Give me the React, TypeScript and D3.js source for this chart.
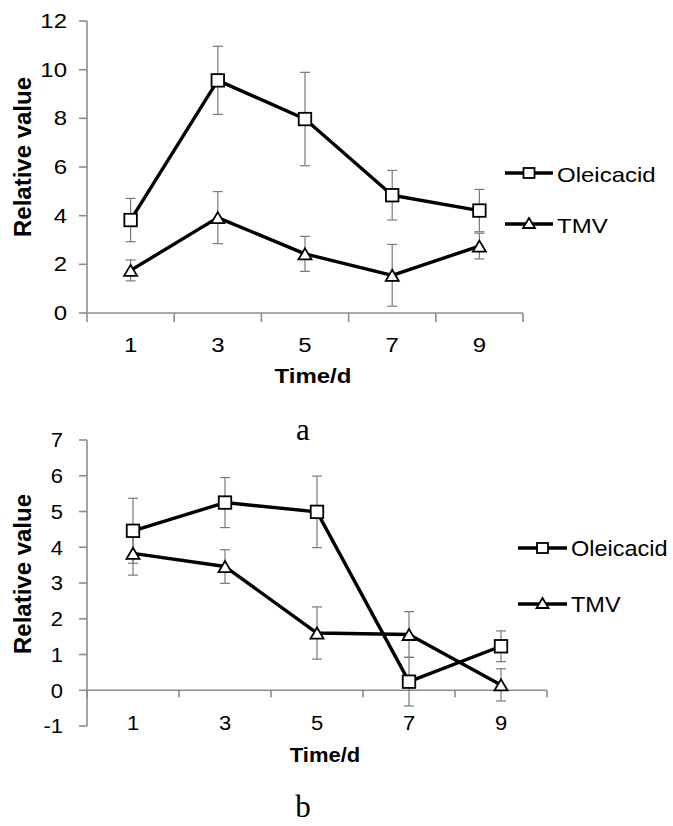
import React from "react";
import * as d3 from "d3";

const days = ["1", "3", "5", "7", "9"];
const seriesNames = ["Oleicacid", "TMV"];

// Panel a
const aOleic = [3.82, 9.56, 7.97, 4.84, 4.21];
const aOleicErr = [0.89, 1.4, 1.92, 1.02, 0.87];
const aTmv = [1.75, 3.92, 2.43, 1.55, 2.75];
const aTmvErr = [0.43, 1.07, 0.72, 1.27, 0.53];
const aTicks = [0, 2, 4, 6, 8, 10, 12];

// Panel b
const bOleic = [4.46, 5.25, 4.99, 0.24, 1.23];
const bOleicErr = [0.91, 0.7, 1.0, 0.68, 0.43];
const bTmv = [3.83, 3.46, 1.6, 1.56, 0.15];
const bTmvErr = [0.61, 0.47, 0.73, 0.64, 0.45];
const bTicks = [-1, 0, 1, 2, 3, 4, 5, 6, 7];

const SANS = "'Liberation Sans', Arial, Helvetica, sans-serif";
const SERIF = "'Liberation Serif', 'Times New Roman', serif";
const AXIS = "#8c8c8c";
const ERR = "#7a7a7a";

function Square({ x, y, s = 12.5 }: { x: number; y: number; s?: number }) {
  return (
    <rect x={x - s / 2} y={y - s / 2} width={s} height={s} fill="#fff" stroke="#000" strokeWidth={1.8} />
  );
}

function Triangle({ x, y, w = 13, h = 11 }: { x: number; y: number; w?: number; h?: number }) {
  const p = `${x},${y - h / 2} ${x + w / 2},${y + h / 2} ${x - w / 2},${y + h / 2}`;
  return <polygon points={p} fill="#fff" stroke="#000" strokeWidth={1.8} strokeLinejoin="miter" />;
}

function STxt({
  x, y, sy, fs, anchor = "middle", weight = "normal", children,
}: { x: number; y: number; sy: number; fs: number; anchor?: string; weight?: string; children: React.ReactNode }) {
  return (
    <text
      transform={`translate(${x},${y}) scale(1,${sy})`}
      fontSize={fs}
      fontFamily={SANS}
      fontWeight={weight}
      textAnchor={anchor as any}
      fill="#000"
    >
      {children}
    </text>
  );
}

function Panel({ c }: { c: any }) {
  const x = d3.scaleBand<string>().domain(days).range(c.xRange).padding(0);
  const y = d3.scaleLinear().domain(c.yDomain).range(c.yRange);
  const cx = (d: string) => (x(d) as number) + x.bandwidth() / 2;
  const y0 = y(Math.max(0, c.yDomain[0]));
  const line = d3
    .line<number>()
    .x((_, i) => cx(days[i]))
    .y((v) => y(v));
  const bounds = [...days.map((d) => x(d) as number), c.xRange[1]];
  const capH = c.fs * 0.716 * c.sy;
  const series = [
    { v: c.oleic, e: c.oleicErr },
    { v: c.tmv, e: c.tmvErr },
  ];
  return (
    <g>
      {/* y axis */}
      <line x1={c.xRange[0]} x2={c.xRange[0]} y1={c.yRange[0]} y2={c.yRange[1]} stroke={AXIS} strokeWidth={1.6} />
      {c.ticks.map((t: number) => (
        <g key={t}>
          <line x1={c.xRange[0] - 8} x2={c.xRange[0]} y1={y(t)} y2={y(t)} stroke={AXIS} strokeWidth={1.6} />
          <STxt x={c.yLabelX} y={y(t) + capH / 2} sy={c.sy} fs={c.fs} anchor="end">
            {t}
          </STxt>
        </g>
      ))}
      {/* x axis */}
      <line x1={c.xRange[0]} x2={c.xRange[1]} y1={y0} y2={y0} stroke={AXIS} strokeWidth={1.6} />
      {bounds.map((b, i) => (
        <line key={i} x1={b} x2={b} y1={y0} y2={y0 + c.tickLen} stroke={AXIS} strokeWidth={1.6} />
      ))}
      {days.map((d) => (
        <STxt key={d} x={cx(d)} y={c.xLabelY} sy={c.sy} fs={c.fs}>
          {d}
        </STxt>
      ))}
      <STxt x={c.timeX} y={c.timeY} sy={c.sy} fs={c.fs} weight="bold">
        Time/d
      </STxt>
      <text
        transform={`translate(${c.relX},${c.relY}) rotate(-90)`}
        fontSize={24}
        fontWeight="bold"
        fontFamily={SANS}
        textAnchor="middle"
      >
        Relative value
      </text>
      {/* error bars */}
      {series.map((s, si) =>
        s.v.map((v: number, i: number) => {
          const px = cx(days[i]);
          const t = y(v + s.e[i]);
          const b = y(v - s.e[i]);
          return (
            <g key={`${si}-${i}`} stroke={ERR} strokeWidth={1.2}>
              <line x1={px} x2={px} y1={t} y2={b} />
              <line x1={px - 5} x2={px + 5} y1={t} y2={t} />
              <line x1={px - 5} x2={px + 5} y1={b} y2={b} />
            </g>
          );
        })
      )}
      {/* lines */}
      {series.map((s, si) => (
        <path key={si} d={line(s.v) as string} fill="none" stroke="#000" strokeWidth={3.4} strokeLinejoin="round" />
      ))}
      {/* markers */}
      {c.oleic.map((v: number, i: number) => (
        <Square key={`s${i}`} x={cx(days[i])} y={y(v)} />
      ))}
      {c.tmv.map((v: number, i: number) => (
        <Triangle key={`t${i}`} x={cx(days[i])} y={y(v)} />
      ))}
      {/* legend */}
      {seriesNames.map((n, i) => {
        const ly = c.legY[i];
        const mx = (c.legX1 + c.legX2) / 2;
        return (
          <g key={n}>
            <line x1={c.legX1} x2={c.legX2} y1={ly} y2={ly} stroke="#000" strokeWidth={3.4} />
            {i === 0 ? (
              <rect x={mx - 5.5} y={ly - 5} width={11} height={10} fill="#fff" stroke="#000" strokeWidth={1.8} />
            ) : (
              <Triangle x={mx} y={ly - 1} w={12} h={10} />
            )}
            <STxt x={c.legX2 + 4} y={ly + c.legTextDy} sy={c.legSy} fs={c.legFs} anchor="start">
              {n}
            </STxt>
          </g>
        );
      })}
      <text x={303} y={c.letterY} fontFamily={SERIF} fontSize={31} textAnchor="middle">
        {c.letter}
      </text>
    </g>
  );
}

const cfgA = {
  yDomain: [0, 12],
  yRange: [313, 21],
  xRange: [87, 523],
  ticks: aTicks,
  oleic: aOleic,
  oleicErr: aOleicErr,
  tmv: aTmv,
  tmvErr: aTmvErr,
  fs: 24,
  sy: 0.83,
  tickLen: 9,
  xLabelY: 352,
  timeX: 313,
  timeY: 383,
  relX: 31,
  relY: 157,
  yLabelX: 67,
  legX1: 505,
  legX2: 553,
  legY: [173, 224],
  legTextDy: 8.5,
  legFs: 24,
  legSy: 0.85,
  letter: "a",
  letterY: 440,
};

const cfgB = {
  yDomain: [-1, 7],
  yRange: [726, 440],
  xRange: [87, 547],
  ticks: bTicks,
  oleic: bOleic,
  oleicErr: bOleicErr,
  tmv: bTmv,
  tmvErr: bTmvErr,
  fs: 22,
  sy: 0.95,
  tickLen: 7,
  xLabelY: 730,
  timeX: 325,
  timeY: 762,
  relX: 31,
  relY: 574,
  yLabelX: 63,
  legX1: 518,
  legX2: 567,
  legY: [548, 604],
  legTextDy: 7.5,
  legFs: 23.5,
  legSy: 0.9,
  letter: "b",
  letterY: 817,
};

export default function App() {
  return (
    <svg
      width={673}
      height={826}
      viewBox="0 0 673 826"
      style={{ position: "absolute", left: 0, top: 0, background: "#fff" }}
    >
      <rect width={673} height={826} fill="#fff" />
      <Panel c={cfgA} />
      <Panel c={cfgB} />
    </svg>
  );
}
